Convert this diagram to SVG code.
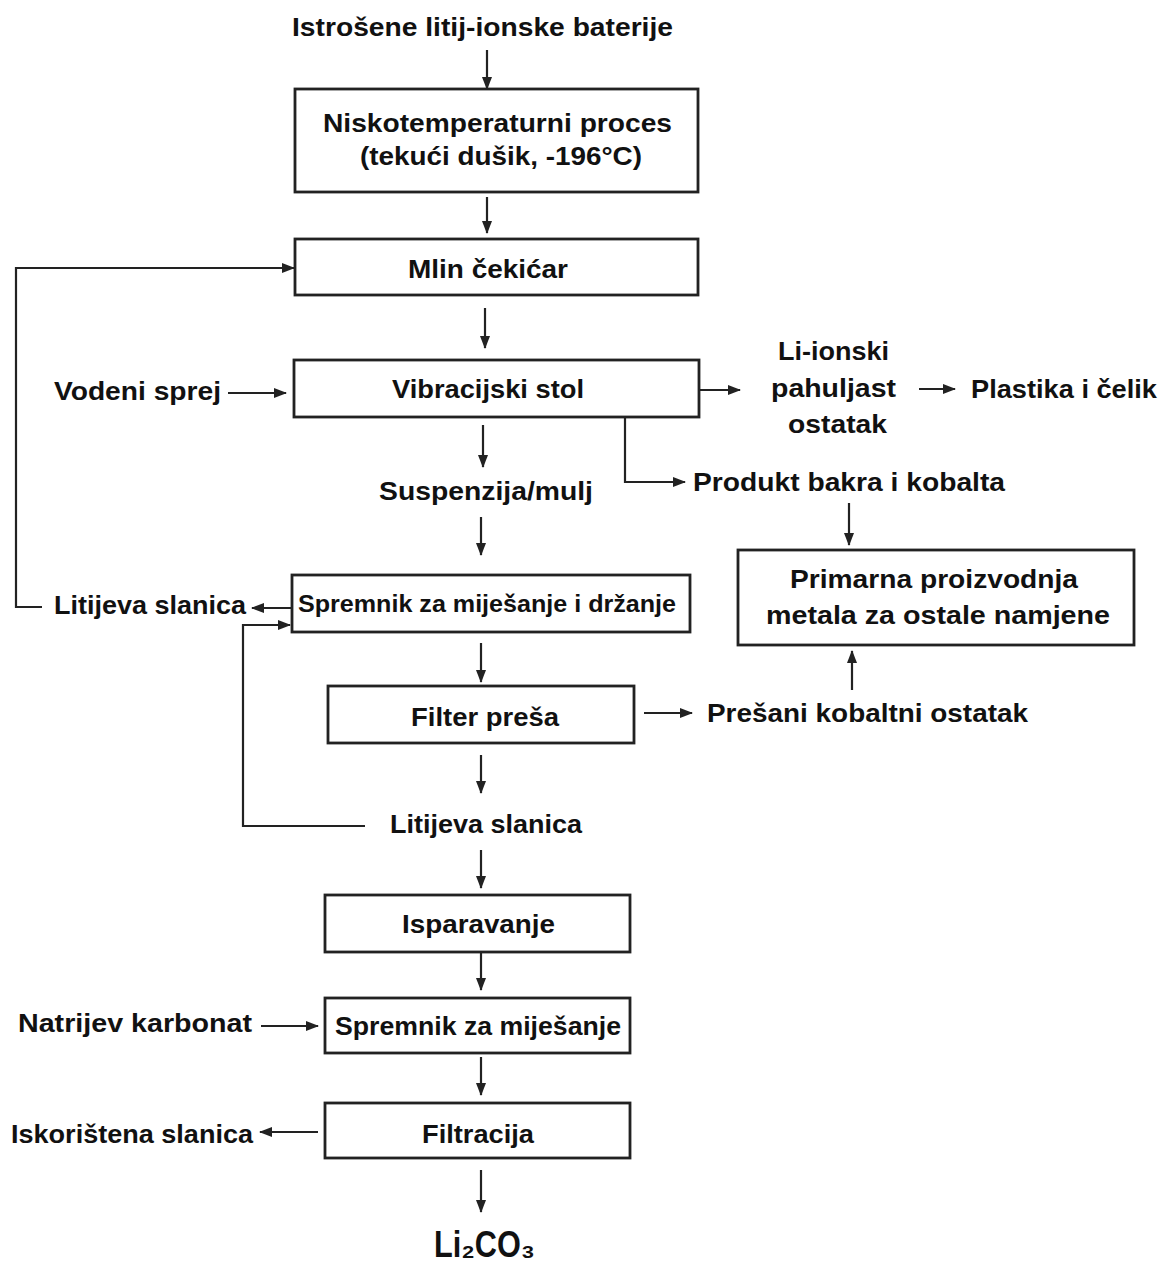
<svg xmlns="http://www.w3.org/2000/svg" width="1164" height="1270" viewBox="0 0 1164 1270">
<style>
text{font-family:"Liberation Sans",Arial,sans-serif;font-weight:bold;font-size:26px;fill:#111}
.box{fill:#fff;stroke:#222;stroke-width:2.8}
.ln{fill:none;stroke:#222;stroke-width:2.2}
</style>
<defs>
<marker id="ah" markerWidth="13" markerHeight="12" refX="12" refY="6" orient="auto" markerUnits="userSpaceOnUse">
<path d="M0,1 L13,6 L0,11 Z" fill="#222"/>
</marker>
</defs>
<rect width="1164" height="1270" fill="#fff"/>

<g id="connectors">
<line class="ln" x1="487" y1="50" x2="487" y2="89" marker-end="url(#ah)"/>
<line class="ln" x1="487" y1="197" x2="487" y2="233" marker-end="url(#ah)"/>
<polyline class="ln" points="42,607 16,607 16,268 294,268" marker-end="url(#ah)"/>
<line class="ln" x1="485" y1="308" x2="485" y2="348" marker-end="url(#ah)"/>
<line class="ln" x1="228" y1="393" x2="286" y2="393" marker-end="url(#ah)"/>
<line class="ln" x1="699" y1="390" x2="740" y2="390" marker-end="url(#ah)"/>
<line class="ln" x1="919" y1="389" x2="955" y2="389" marker-end="url(#ah)"/>
<polyline class="ln" points="625,417 625,482 685,482" marker-end="url(#ah)"/>
<line class="ln" x1="483" y1="425" x2="483" y2="467" marker-end="url(#ah)"/>
<line class="ln" x1="481" y1="517" x2="481" y2="555" marker-end="url(#ah)"/>
<line class="ln" x1="849" y1="503" x2="849" y2="545" marker-end="url(#ah)"/>
<line class="ln" x1="291" y1="608" x2="252" y2="608" marker-end="url(#ah)"/>
<polyline class="ln" points="365,826 243,826 243,625 290,625" marker-end="url(#ah)"/>
<line class="ln" x1="481" y1="643" x2="481" y2="682" marker-end="url(#ah)"/>
<line class="ln" x1="644" y1="713" x2="692" y2="713" marker-end="url(#ah)"/>
<line class="ln" x1="852" y1="690" x2="852" y2="651" marker-end="url(#ah)"/>
<line class="ln" x1="481" y1="755" x2="481" y2="793" marker-end="url(#ah)"/>
<line class="ln" x1="481" y1="850" x2="481" y2="888" marker-end="url(#ah)"/>
<line class="ln" x1="481" y1="953" x2="481" y2="990" marker-end="url(#ah)"/>
<line class="ln" x1="261" y1="1026" x2="318" y2="1026" marker-end="url(#ah)"/>
<line class="ln" x1="481" y1="1057" x2="481" y2="1095" marker-end="url(#ah)"/>
<line class="ln" x1="318" y1="1132" x2="260" y2="1132" marker-end="url(#ah)"/>
<line class="ln" x1="481" y1="1170" x2="481" y2="1212" marker-end="url(#ah)"/>
</g>

<g id="n-start"><text x="292" y="36" textLength="381" lengthAdjust="spacingAndGlyphs">Istrošene litij-ionske baterije</text></g>

<g id="n-nisko">
<rect class="box" x="295" y="89" width="403" height="103"/>
<text x="323" y="132" textLength="349" lengthAdjust="spacingAndGlyphs">Niskotemperaturni proces</text>
<text x="360" y="165" textLength="282" lengthAdjust="spacingAndGlyphs">(tekući dušik, -196°C)</text>
</g>

<g id="n-mlin">
<rect class="box" x="295" y="239" width="403" height="56"/>
<text x="408" y="278" textLength="160" lengthAdjust="spacingAndGlyphs">Mlin čekićar</text>
</g>

<g id="n-vodeni"><text x="54" y="400" textLength="167" lengthAdjust="spacingAndGlyphs">Vodeni sprej</text></g>

<g id="n-vibr">
<rect class="box" x="294" y="360" width="405" height="57"/>
<text x="392" y="398" textLength="192" lengthAdjust="spacingAndGlyphs">Vibracijski stol</text>
</g>

<g id="n-pahuljast">
<text x="778" y="360" textLength="111" lengthAdjust="spacingAndGlyphs">Li-ionski</text>
<text x="771" y="397" textLength="125" lengthAdjust="spacingAndGlyphs">pahuljast</text>
<text x="788" y="433" textLength="99" lengthAdjust="spacingAndGlyphs">ostatak</text>
</g>

<g id="n-plastika"><text x="971" y="398" textLength="186" lengthAdjust="spacingAndGlyphs">Plastika i čelik</text></g>

<g id="n-produkt"><text x="693" y="491" textLength="312" lengthAdjust="spacingAndGlyphs">Produkt bakra i kobalta</text></g>

<g id="n-susp"><text x="379" y="500" textLength="214" lengthAdjust="spacingAndGlyphs">Suspenzija/mulj</text></g>

<g id="n-primarna">
<rect class="box" x="738" y="550" width="396" height="95"/>
<text x="790" y="588" textLength="288" lengthAdjust="spacingAndGlyphs">Primarna proizvodnja</text>
<text x="766" y="624" textLength="344" lengthAdjust="spacingAndGlyphs">metala za ostale namjene</text>
</g>

<g id="n-litijeva1"><text x="54" y="614" textLength="192" lengthAdjust="spacingAndGlyphs">Litijeva slanica</text></g>

<g id="n-spremnik1">
<rect class="box" x="292" y="575" width="398" height="57"/>
<text x="298" y="612" textLength="378" lengthAdjust="spacingAndGlyphs" style="font-size:24px">Spremnik za miješanje i držanje</text>
</g>

<g id="n-filterpresa">
<rect class="box" x="328" y="686" width="306" height="57"/>
<text x="411" y="726" textLength="148" lengthAdjust="spacingAndGlyphs">Filter preša</text>
</g>

<g id="n-presani"><text x="707" y="722" textLength="321" lengthAdjust="spacingAndGlyphs">Prešani kobaltni ostatak</text></g>

<g id="n-litijeva2"><text x="390" y="833" textLength="192" lengthAdjust="spacingAndGlyphs">Litijeva slanica</text></g>

<g id="n-isparavanje">
<rect class="box" x="325" y="895" width="305" height="57"/>
<text x="402" y="933" textLength="153" lengthAdjust="spacingAndGlyphs">Isparavanje</text>
</g>

<g id="n-natrijev"><text x="18" y="1032" textLength="234" lengthAdjust="spacingAndGlyphs">Natrijev karbonat</text></g>

<g id="n-spremnik2">
<rect class="box" x="325" y="998" width="305" height="55"/>
<text x="335" y="1035" textLength="286" lengthAdjust="spacingAndGlyphs">Spremnik za miješanje</text>
</g>

<g id="n-filtracija">
<rect class="box" x="325" y="1103" width="305" height="55"/>
<text x="422" y="1143" textLength="112" lengthAdjust="spacingAndGlyphs">Filtracija</text>
</g>

<g id="n-iskoristena"><text x="11" y="1143" textLength="242" lengthAdjust="spacingAndGlyphs">Iskorištena slanica</text></g>

<g id="n-li2co3"><text x="434" y="1257" textLength="101" lengthAdjust="spacingAndGlyphs" style="font-size:36px">Li₂CO₃</text></g>
</svg>
